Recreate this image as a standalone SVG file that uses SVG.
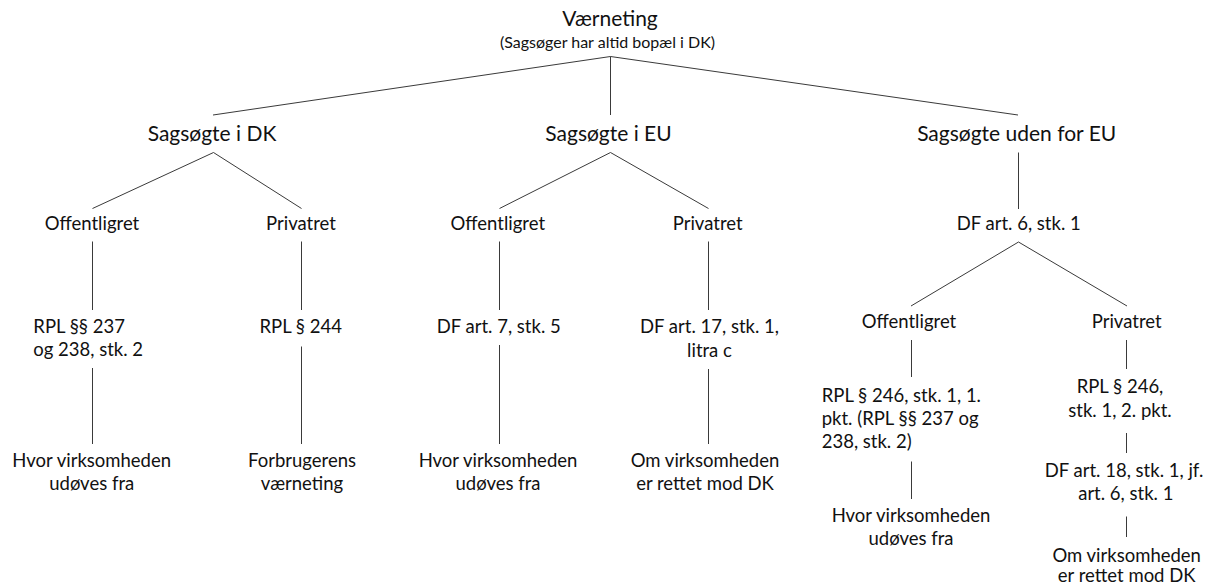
<svg xmlns="http://www.w3.org/2000/svg" width="1214" height="586" viewBox="0 0 1214 586">
<style>
  .t { font-family: Lato, "Liberation Sans", sans-serif; fill: #111; text-anchor: middle; }
  .l { text-anchor: start; }
  .root { font-size: 21px; }
  .sub { font-size: 16px; }
  .h2 { font-size: 21px; }
  .b { font-size: 18.5px; }
  .c line, .c path { stroke: #3a3a3a; stroke-width: 1; fill: none; }
</style>
<rect width="1214" height="586" fill="#fff"/>
<g id="connectors" class="c">
  <line x1="610.5" y1="56.5" x2="213" y2="115"/>
  <line x1="610.5" y1="56.5" x2="610.5" y2="115"/>
  <line x1="610.5" y1="56.5" x2="1018" y2="115"/>
  <line x1="213.5" y1="152.5" x2="92.5" y2="208.5"/>
  <line x1="213.5" y1="152.5" x2="301.5" y2="208.5"/>
  <line x1="610.5" y1="152.5" x2="499.5" y2="208.5"/>
  <line x1="610.5" y1="152.5" x2="708.5" y2="208.5"/>
  <line x1="1018.5" y1="152.5" x2="1018.5" y2="209"/>
  <line x1="92.5" y1="241.5" x2="92.5" y2="310"/>
  <line x1="301.5" y1="241.5" x2="301.5" y2="310"/>
  <line x1="499.5" y1="241.5" x2="499.5" y2="310"/>
  <line x1="708.5" y1="241.5" x2="708.5" y2="310"/>
  <line x1="1018.5" y1="242" x2="911" y2="306"/>
  <line x1="1018.5" y1="242" x2="1127" y2="306"/>
  <line x1="92.5" y1="368" x2="92.5" y2="444"/>
  <line x1="301.5" y1="346.5" x2="301.5" y2="444"/>
  <line x1="499.5" y1="345" x2="499.5" y2="444"/>
  <line x1="708.5" y1="369" x2="708.5" y2="444"/>
  <line x1="911.5" y1="340" x2="911.5" y2="377"/>
  <line x1="1126.5" y1="340" x2="1126.5" y2="369"/>
  <line x1="911.5" y1="461.5" x2="911.5" y2="499"/>
  <line x1="1126.5" y1="433" x2="1126.5" y2="453"/>
  <line x1="1126.5" y1="516.5" x2="1126.5" y2="537"/>
</g>
<g id="root">
  <text class="t root" x="610" y="26">Værneting</text>
  <text class="t sub" x="607.5" y="48">(Sagsøger har altid bopæl i DK)</text>
</g>
<g id="sagsoegte-dk"><text class="t h2" x="212" y="141">Sagsøgte i DK</text></g>
<g id="sagsoegte-eu"><text class="t h2" x="608.5" y="141">Sagsøgte i EU</text></g>
<g id="sagsoegte-uden"><text class="t h2" x="1016.7" y="141">Sagsøgte uden for EU</text></g>

<g id="dk-off"><text class="t b" x="92" y="230">Offentligret</text></g>
<g id="dk-priv"><text class="t b" x="301" y="230">Privatret</text></g>
<g id="dk-off-rpl">
  <text class="t b l" x="33.3" y="332.7">RPL §§ 237</text>
  <text class="t b l" x="33.3" y="355.5">og 238, stk. 2</text>
</g>
<g id="dk-priv-rpl"><text class="t b" x="300.7" y="332.7">RPL § 244</text></g>
<g id="dk-off-res">
  <text class="t b" x="91.7" y="466.7">Hvor virksomheden</text>
  <text class="t b" x="91.7" y="490">udøves fra</text>
</g>
<g id="dk-priv-res">
  <text class="t b" x="302" y="466.7">Forbrugerens</text>
  <text class="t b" x="302" y="490">værneting</text>
</g>

<g id="eu-off"><text class="t b" x="497.8" y="230">Offentligret</text></g>
<g id="eu-priv"><text class="t b" x="707.7" y="230">Privatret</text></g>
<g id="eu-off-df"><text class="t b" x="498.7" y="332.7">DF art. 7, stk. 5</text></g>
<g id="eu-priv-df">
  <text class="t b" x="709.5" y="332.7">DF art. 17, stk. 1,</text>
  <text class="t b" x="709.5" y="356.7">litra c</text>
</g>
<g id="eu-off-res">
  <text class="t b" x="498" y="466.7">Hvor virksomheden</text>
  <text class="t b" x="498" y="490">udøves fra</text>
</g>
<g id="eu-priv-res">
  <text class="t b" x="705" y="466.7">Om virksomheden</text>
  <text class="t b" x="705" y="490">er rettet mod DK</text>
</g>

<g id="uden-df"><text class="t b" x="1018.7" y="230">DF art. 6, stk. 1</text></g>
<g id="uden-off"><text class="t b" x="909" y="328.3">Offentligret</text></g>
<g id="uden-priv"><text class="t b" x="1126.7" y="328.3">Privatret</text></g>
<g id="uden-off-rpl">
  <text class="t b l" x="821.7" y="401.7">RPL § 246, stk. 1, 1.</text>
  <text class="t b l" x="821.7" y="425">pkt. (RPL §§ 237 og</text>
  <text class="t b l" x="821.7" y="448">238, stk. 2)</text>
</g>
<g id="uden-priv-rpl">
  <text class="t b" x="1120" y="393.3">RPL § 246,</text>
  <text class="t b" x="1120" y="416.7">stk. 1, 2. pkt.</text>
</g>
<g id="uden-priv-df">
  <text class="t b" x="1124" y="476.7">DF art. 18, stk. 1, jf.</text>
  <text class="t b" x="1125.8" y="500">art. 6, stk. 1</text>
</g>
<g id="uden-off-res">
  <text class="t b" x="911" y="521.7">Hvor virksomheden</text>
  <text class="t b" x="911" y="545">udøves fra</text>
</g>
<g id="uden-priv-res">
  <text class="t b" x="1126.7" y="562">Om virksomheden</text>
  <text class="t b" x="1126.7" y="582">er rettet mod DK</text>
</g>
</svg>
